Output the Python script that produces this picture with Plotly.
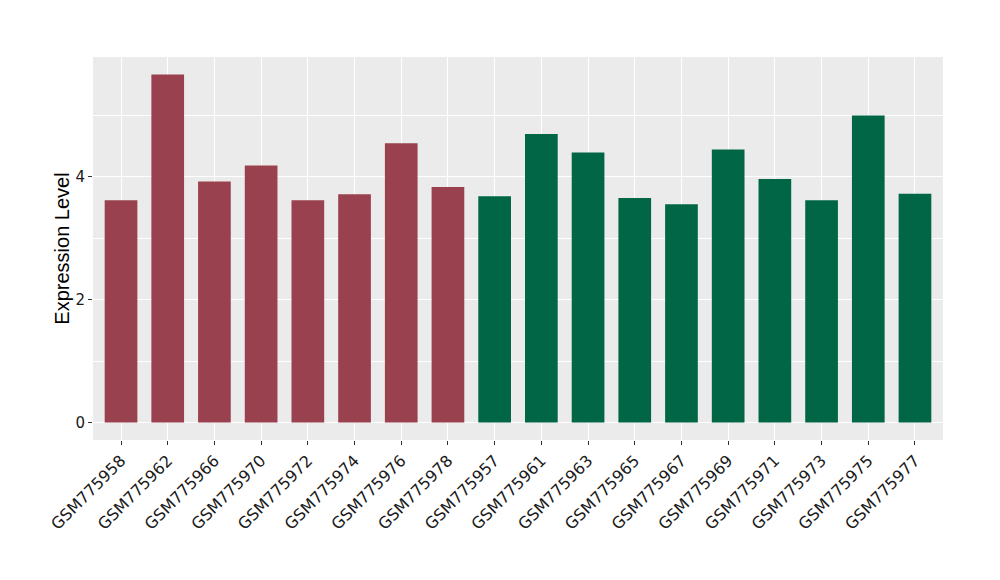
import plotly.graph_objects as go

samples = ["GSM775958", "GSM775962", "GSM775966", "GSM775970", "GSM775972", "GSM775974",
           "GSM775976", "GSM775978", "GSM775957", "GSM775961", "GSM775963", "GSM775965",
           "GSM775967", "GSM775969", "GSM775971", "GSM775973", "GSM775975", "GSM775977"]
values = [3.615, 5.66, 3.92, 4.18, 3.615, 3.71, 4.54, 3.83, 3.68, 4.69, 4.39, 3.65,
          3.55, 4.44, 3.96, 3.615, 4.99, 3.72]
groups = ["A"] * 8 + ["B"] * 10
group_colors = {"A": "#99414F", "B": "#006645"}
y_ticks = [0, 2, 4]

colors = [group_colors[g] for g in groups]
ymax = max(values)
pad = 0.05 * ymax

fig = go.Figure()
fig.add_trace(go.Bar(x=samples, y=values, marker=dict(color=colors, line=dict(width=0)),
                     width=0.7, showlegend=False))

fig.update_layout(
    width=1000, height=580,
    margin=dict(l=85, r=65, t=49, b=148),
    paper_bgcolor="white", plot_bgcolor="#EBEBEB",
    font=dict(family="Liberation Sans, Arial, sans-serif", color="#1a1a1a"),
    bargap=0.3,
)
fig.update_xaxes(
    type="category", range=[-0.6, len(samples) - 0.4],
    tickangle=-45, tickfont=dict(family="DejaVu Sans", size=16, color="#1a1a1a"),
    showgrid=True, gridcolor="white", gridwidth=1.2,
    ticks="outside", ticklen=4, tickcolor="#333333", zeroline=False, showline=False,
)
fig.update_yaxes(
    range=[-pad, ymax + pad], tickvals=y_ticks, ticktext=[str(v) for v in y_ticks],
    tickfont=dict(family="DejaVu Sans", size=15, color="#1a1a1a"),
    showgrid=True, gridcolor="white", gridwidth=1.2,
    minor=dict(tickvals=[1, 3, 5], showgrid=True, gridcolor="white", gridwidth=0.6, ticks=""),
    ticks="outside", ticklen=4, tickcolor="#333333", zeroline=False, showline=False,
    title=dict(text="Expression Level", font=dict(family="Liberation Sans", size=20, color="#000000"), standoff=0),
)

fig.write_html("out.html")
